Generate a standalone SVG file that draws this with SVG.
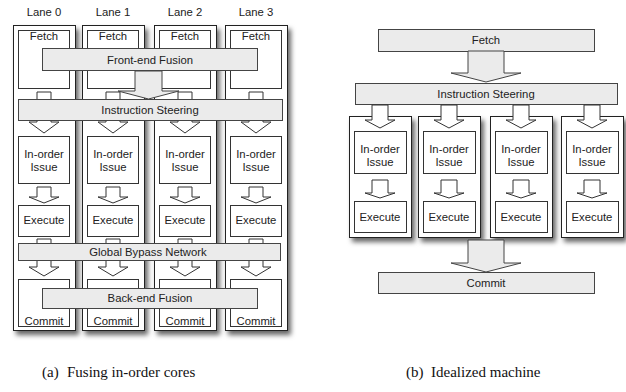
<svg xmlns="http://www.w3.org/2000/svg" width="626" height="392" viewBox="0 0 626 392">
<style>
text{font-family:"Liberation Sans",Arial,sans-serif;font-size:11.3px;fill:#222;text-anchor:middle}
.cap{font-family:"Liberation Serif","Times New Roman",serif;font-size:15px;text-anchor:start;fill:#111}
.lane{fill:#fff;stroke:#222;stroke-width:1;filter:url(#sh)}
.box{fill:#fff;stroke:#333;stroke-width:1}
.bar{fill:#ebebeb;stroke:#444;stroke-width:1}
.arr{fill:#fff;stroke:#333;stroke-width:1;stroke-linejoin:miter}
.big{fill:#ebebeb;stroke:#444;stroke-width:1}
</style>
<defs>
<filter id="sh" x="-20%" y="-20%" width="150%" height="150%">
<feDropShadow dx="3" dy="4" stdDeviation="2.5" flood-color="#000" flood-opacity="0.6"/>
</filter>
</defs>
<rect width="626" height="392" fill="#fff"/>

<g id="lane0"><text x="44" y="16">Lane 0</text><rect class="lane" x="13.5" y="25.5" width="62" height="305"/></g>
<g id="lane1"><text x="113" y="16">Lane 1</text><rect class="lane" x="82.5" y="25.5" width="62" height="305"/></g>
<g id="lane2"><text x="185" y="16">Lane 2</text><rect class="lane" x="154.5" y="25.5" width="62" height="305"/></g>
<g id="lane3"><text x="256" y="16">Lane 3</text><rect class="lane" x="225.5" y="25.5" width="62" height="305"/></g>

<g id="fetch-l">
<rect class="box" x="18.5" y="30.5" width="51" height="58"/><text x="44" y="40">Fetch</text>
<rect class="box" x="87.5" y="30.5" width="51" height="58"/><text x="113" y="40">Fetch</text>
<rect class="box" x="159.5" y="30.5" width="51" height="58"/><text x="185" y="40">Fetch</text>
<rect class="box" x="230.5" y="30.5" width="51" height="58"/><text x="256" y="40">Fetch</text>
</g>
<g id="issue-l">
<rect class="box" x="18.5" y="136.5" width="51" height="47"/><text x="44" y="158">In-order</text><text x="44" y="171">Issue</text>
<rect class="box" x="87.5" y="136.5" width="51" height="47"/><text x="113" y="158">In-order</text><text x="113" y="171">Issue</text>
<rect class="box" x="159.5" y="136.5" width="51" height="47"/><text x="185" y="158">In-order</text><text x="185" y="171">Issue</text>
<rect class="box" x="230.5" y="136.5" width="51" height="47"/><text x="256" y="158">In-order</text><text x="256" y="171">Issue</text>
</g>
<g id="exec-l">
<rect class="box" x="18.5" y="205.5" width="51" height="31"/><text x="44" y="224">Execute</text>
<rect class="box" x="87.5" y="205.5" width="51" height="31"/><text x="113" y="224">Execute</text>
<rect class="box" x="159.5" y="205.5" width="51" height="31"/><text x="185" y="224">Execute</text>
<rect class="box" x="230.5" y="205.5" width="51" height="31"/><text x="256" y="224">Execute</text>
</g>
<g id="commit-l">
<rect class="box" x="18.5" y="279.5" width="51" height="47"/><text x="44" y="325">Commit</text>
<rect class="box" x="87.5" y="279.5" width="51" height="47"/><text x="113" y="325">Commit</text>
<rect class="box" x="159.5" y="279.5" width="51" height="47"/><text x="185" y="325">Commit</text>
<rect class="box" x="230.5" y="279.5" width="51" height="47"/><text x="256" y="325">Commit</text>
</g>

<g id="connectors-left">
<polygon class="arr" points="37,92 51,92 51,122 59,122 44,133 29,122 37,122"/>
<polygon class="arr" points="106,92 120,92 120,122 128,122 113,133 98,122 106,122"/>
<polygon class="arr" points="178,92 192,92 192,122 200,122 185,133 170,122 178,122"/>
<polygon class="arr" points="249,92 263,92 263,122 271,122 256,133 241,122 249,122"/>
<polygon class="arr" points="37,187 51,187 51,197 59,197 44,203 29,197 37,197"/>
<polygon class="arr" points="106,187 120,187 120,197 128,197 113,203 98,197 106,197"/>
<polygon class="arr" points="178,187 192,187 192,197 200,197 185,203 170,197 178,197"/>
<polygon class="arr" points="249,187 263,187 263,197 271,197 256,203 241,197 249,197"/>
<polygon class="arr" points="37,239 51,239 51,267 59,267 44,276 29,267 37,267"/>
<polygon class="arr" points="106,239 120,239 120,267 128,267 113,276 98,267 106,267"/>
<polygon class="arr" points="178,239 192,239 192,267 200,267 185,276 170,267 178,267"/>
<polygon class="arr" points="249,239 263,239 263,267 271,267 256,276 241,267 249,267"/>
</g>

<g id="frontend-fusion"><rect class="bar" x="42.5" y="48.5" width="215" height="22"/><text x="150" y="64">Front-end Fusion</text></g>
<g id="steering-l"><rect class="bar" x="18.5" y="99.5" width="264" height="21"/><text x="150" y="114">Instruction Steering</text></g>
<g id="bypass"><rect class="bar" x="18.5" y="243.5" width="262" height="17"/><text x="148" y="256">Global Bypass Network</text></g>
<g id="backend-fusion"><rect class="bar" x="42.5" y="288.5" width="215" height="20"/><text x="150" y="302">Back-end Fusion</text></g>
<g id="connector-fusion"><polygon class="big" points="135,71 162,71 162,91 179,91 148.5,99 118,91 135,91"/></g>

<g id="fetch-r"><rect class="bar" x="378.5" y="29.5" width="216" height="22"/><text x="486" y="44">Fetch</text></g>
<g id="steering-r"><rect class="bar" x="355.5" y="83.5" width="262" height="21"/><text x="486" y="98">Instruction Steering</text></g>
<g id="connector-fetch"><polygon class="big" points="468,51 504,51 504,73 521,73 486,82 451,73 468,73"/></g>

<g id="col0"><rect class="lane" x="349.5" y="116.5" width="62" height="121"/>
<rect class="box" x="354.5" y="131.5" width="52" height="42"/><text x="380" y="153">In-order</text><text x="380" y="166">Issue</text>
<rect class="box" x="354.5" y="201.5" width="52" height="31"/><text x="380" y="221">Execute</text></g>
<g id="col1"><rect class="lane" x="418.5" y="116.5" width="62" height="121"/>
<rect class="box" x="423.5" y="131.5" width="52" height="42"/><text x="449" y="153">In-order</text><text x="449" y="166">Issue</text>
<rect class="box" x="423.5" y="201.5" width="52" height="31"/><text x="449" y="221">Execute</text></g>
<g id="col2"><rect class="lane" x="490.5" y="116.5" width="62" height="121"/>
<rect class="box" x="495.5" y="131.5" width="52" height="42"/><text x="521" y="153">In-order</text><text x="521" y="166">Issue</text>
<rect class="box" x="495.5" y="201.5" width="52" height="31"/><text x="521" y="221">Execute</text></g>
<g id="col3"><rect class="lane" x="561.5" y="116.5" width="62" height="121"/>
<rect class="box" x="566.5" y="131.5" width="52" height="42"/><text x="592" y="153">In-order</text><text x="592" y="166">Issue</text>
<rect class="box" x="566.5" y="201.5" width="52" height="31"/><text x="592" y="221">Execute</text></g>

<g id="connectors-right">
<polygon class="arr" points="372,105 388,105 388,120 395,120 380,128 365,120 372,120"/>
<polygon class="arr" points="441,105 457,105 457,120 464,120 449,128 434,120 441,120"/>
<polygon class="arr" points="513,105 529,105 529,120 536,120 521,128 506,120 513,120"/>
<polygon class="arr" points="584,105 600,105 600,120 607,120 592,128 577,120 584,120"/>
<polygon class="arr" points="372,180 388,180 388,193 395,193 380,198 365,193 372,193"/>
<polygon class="arr" points="441,180 457,180 457,193 464,193 449,198 434,193 441,193"/>
<polygon class="arr" points="513,180 529,180 529,193 536,193 521,198 506,193 513,193"/>
<polygon class="arr" points="584,180 600,180 600,193 607,193 592,198 577,193 584,193"/>
<polygon class="big" points="468,240 504,240 504,263 521,263 486,272 451,263 468,263"/>
</g>
<g id="commit-r"><rect class="bar" x="378.5" y="272.5" width="216" height="21"/><text x="486" y="287">Commit</text></g>

<text class="cap" x="42" y="377">(a)</text><text class="cap" x="67" y="377">Fusing in-order cores</text>
<text class="cap" x="406" y="377">(b)</text><text class="cap" x="431" y="377">Idealized machine</text>
</svg>
